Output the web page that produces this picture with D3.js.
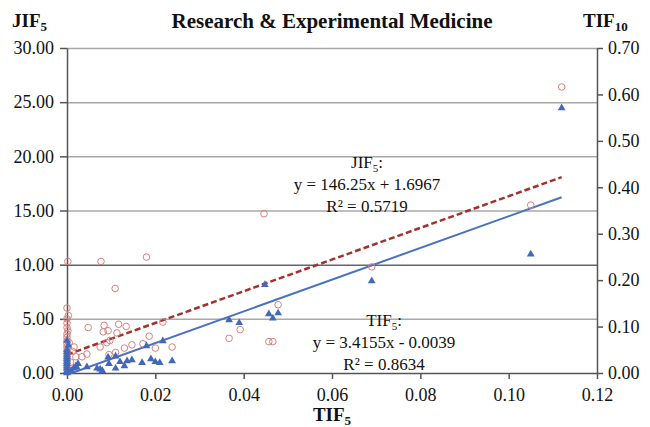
<!DOCTYPE html>
<html>
<head>
<meta charset="utf-8">
<script src="https://cdn.jsdelivr.net/npm/d3@7"></script>
<style>
  body { margin: 0; background: #fff; }
  text { font-family: "Liberation Serif", "DejaVu Serif", serif; }
</style>
</head>
<body>
<div id="wrapper"></div>
<script>
// JIF5 (left axis) against TIF5
const jif5Points = [
  [0, 0.3], [0, 0.6], [0, 0.9], [0, 1.2], [0, 1.5], [0, 1.8], [0, 2.1], [0, 2.4],
  [0, 2.7], [0, 3.0], [0, 3.3], [0, 3.6], [0.0002, 3.9], [0, 4.2], [0, 4.6], [0, 5.0],
  [0.0003, 5.3], [0, 6.0], [0.0002, 10.3], [0.0008, 1.0], [0.0012, 2.0], [0.0005, 2.8],
  [0.0016, 2.4], [0.002, 1.5], [0.0034, 1.5], [0.0045, 1.75], [0.0048, 4.2], [0.0075, 2.4],
  [0.0077, 10.3], [0.0084, 4.4], [0.0082, 3.8], [0.009, 2.8], [0.0093, 3.9], [0.0095, 1.7],
  [0.0097, 3.0], [0.0109, 7.8], [0.011, 1.9], [0.0113, 3.7], [0.0117, 4.5], [0.013, 2.3],
  [0.0134, 4.3], [0.0147, 2.6], [0.0172, 2.7], [0.018, 10.7], [0.0186, 3.4], [0.020, 2.3],
  [0.0217, 4.7], [0.0238, 2.4], [0.0367, 3.2], [0.0392, 4.0], [0.0446, 14.7], [0.0457, 2.9],
  [0.0466, 2.9], [0.0478, 6.3], [0.069, 9.8], [0.105, 15.5], [0.112, 26.4],
]

// TIF10 (right axis) against TIF5
const tif10Points = [
  [0, 0.0], [0, 0.005], [0, 0.01], [0, 0.015], [0, 0.02], [0, 0.025], [0, 0.03],
  [0, 0.035], [0, 0.04], [0, 0.045], [0, 0.05], [0.0003, 0.06], [0, 0.07],
  [0.001, 0.005], [0.0015, 0.01], [0.002, 0.015], [0.0025, 0.02], [0.0022, 0.012],
  [0.0045, 0.013], [0.0068, 0.01], [0.0075, 0.008], [0.008, 0.005], [0.0093, 0.034],
  [0.0095, 0.02], [0.011, 0.036], [0.011, 0.01], [0.012, 0.024], [0.013, 0.015],
  [0.0136, 0.026], [0.0147, 0.028], [0.017, 0.022], [0.018, 0.058], [0.019, 0.030],
  [0.020, 0.024], [0.021, 0.022], [0.0217, 0.069], [0.0238, 0.026], [0.0367, 0.114],
  [0.039, 0.108], [0.0448, 0.19], [0.0457, 0.127], [0.0466, 0.118], [0.0478, 0.129],
  [0.069, 0.198], [0.105, 0.256], [0.112, 0.571],
]

// trend lines: [slope, intercept], drawn over x range [0, max TIF5]
const jif5Trend = [146.25, 1.6967]
const tif5Trend = [3.4155, -0.0039]
const trendXRange = [0, 0.112]

const xTicks = [0, 0.02, 0.04, 0.06, 0.08, 0.10, 0.12]
const leftTicks = [0, 5, 10, 15, 20, 25, 30]
const rightTicks = [0, 0.1, 0.2, 0.3, 0.4, 0.5, 0.6, 0.7]

const jif5Label = ["y = 146.25x + 1.6967", "R² = 0.5719"]
const tif5Label = ["y = 3.4155x - 0.0039", "R² = 0.8634"]

let dimensions = {
  width: 650,
  height: 427,
  margin: { top: 48, right: 53, bottom: 54, left: 67 },
}
dimensions.boundedWidth = dimensions.width - dimensions.margin.left - dimensions.margin.right
dimensions.boundedHeight = dimensions.height - dimensions.margin.top - dimensions.margin.bottom

const wrapper = d3.select("#wrapper")
  .append("svg")
    .attr("width", dimensions.width)
    .attr("height", dimensions.height)

const bounds = wrapper.append("g")
  .attr("transform", `translate(${dimensions.margin.left}, ${dimensions.margin.top})`)

// scales
const xScale = d3.scaleLinear()
  .domain([0, 0.12])
  .range([0, dimensions.boundedWidth])
const yLeft = d3.scaleLinear()
  .domain([0, 30])
  .range([dimensions.boundedHeight, 0])
const yRight = d3.scaleLinear()
  .domain([0, 0.7])
  .range([dimensions.boundedHeight, 0])

// gridlines
const grid = bounds.append("g")
  .call(d3.axisLeft(yLeft).tickValues(leftTicks.slice(1)).tickSize(-dimensions.boundedWidth).tickFormat(""))
grid.select(".domain").remove()
grid.selectAll(".tick line")
  .attr("stroke", d => d == 10 ? "#666" : "#a8a8a8")
  .attr("stroke-width", 1.5)

// axes
const fmt2 = d3.format(".2f")
const xAxis = bounds.append("g")
  .attr("transform", `translate(0, ${dimensions.boundedHeight})`)
  .call(d3.axisBottom(xScale).tickValues(xTicks).tickFormat(fmt2).tickSize(6).tickSizeOuter(0).tickPadding(9))
const leftAxis = bounds.append("g")
  .call(d3.axisLeft(yLeft).tickValues(leftTicks).tickFormat(fmt2).tickSize(7).tickSizeOuter(0).tickPadding(6))
const rightAxis = bounds.append("g")
  .attr("transform", `translate(${dimensions.boundedWidth}, 0)`)
  .call(d3.axisRight(yRight).tickValues(rightTicks).tickFormat(fmt2).tickSize(6).tickSizeOuter(0).tickPadding(5))

;[xAxis, leftAxis, rightAxis].forEach(axis => {
  axis.attr("font-family", "Liberation Serif, serif").attr("font-size", 18)
  axis.selectAll(".tick text").attr("fill", "#111")
  axis.select(".domain").attr("stroke", "#555").attr("stroke-width", 1.5)
  axis.selectAll(".tick line").attr("stroke", "#555").attr("stroke-width", 1.5)
})

// trend lines
const trendLine = (coef, yScale) => d3.line()
  .x(d => xScale(d))
  .y(d => yScale(coef[0] * d + coef[1]))

bounds.append("path")
  .datum(trendXRange)
  .attr("d", trendLine(tif5Trend, yRight))
  .attr("fill", "none")
  .attr("stroke", "#4a72c0")
  .attr("stroke-width", 2)

bounds.append("path")
  .datum(trendXRange)
  .attr("d", trendLine(jif5Trend, yLeft))
  .attr("fill", "none")
  .attr("stroke", "#a3312e")
  .attr("stroke-width", 2.5)
  .attr("stroke-dasharray", "6,3")

// points
bounds.selectAll(".jif")
  .data(jif5Points)
  .enter().append("circle")
    .attr("class", "jif")
    .attr("cx", d => xScale(d[0]))
    .attr("cy", d => yLeft(d[1]))
    .attr("r", 3.3)
    .attr("fill", "none")
    .attr("stroke", "#d4827f")
    .attr("stroke-width", 1)

const triangle = d3.symbol().type(d3.symbolTriangle).size(26)
bounds.selectAll(".tif")
  .data(tif10Points)
  .enter().append("path")
    .attr("class", "tif")
    .attr("transform", d => `translate(${xScale(d[0])}, ${yRight(d[1])})`)
    .attr("d", triangle)
    .attr("fill", "#4169b8")

// trend labels
const drawLabel = (name, lines, cx, y0) => {
  const g = bounds.append("g").attr("font-size", 17).attr("fill", "#111").attr("text-anchor", "middle")
  const t = g.append("text").attr("x", cx).attr("y", y0)
  t.append("tspan").text(name)
  t.append("tspan").attr("font-size", 11).attr("dy", 4).text("5")
  t.append("tspan").attr("dy", -4).text(":")
  lines.forEach((line, i) => {
    g.append("text").attr("x", cx).attr("y", y0 + 22 * (i + 1)).text(line)
  })
}
drawLabel("JIF", jif5Label, 367 - dimensions.margin.left, 168 - dimensions.margin.top)
drawLabel("TIF", tif5Label, 384 - dimensions.margin.left, 326 - dimensions.margin.top)

// titles
const titleWithSub = (x, y, main, sub, anchor) => {
  const t = wrapper.append("text")
    .attr("x", x).attr("y", y)
    .attr("font-weight", "bold")
    .attr("font-size", 19)
    .attr("text-anchor", anchor)
    .attr("fill", "#111")
  t.append("tspan").text(main)
  t.append("tspan").attr("font-size", 13).attr("dy", 4).text(sub)
}
titleWithSub(12, 27, "JIF", "5", "start")
titleWithSub(583, 27, "TIF", "10", "start")
titleWithSub(dimensions.margin.left + dimensions.boundedWidth / 2, 421, "TIF", "5", "middle")

wrapper.append("text")
  .attr("x", dimensions.margin.left + dimensions.boundedWidth / 2)
  .attr("y", 28)
  .attr("text-anchor", "middle")
  .attr("font-weight", "bold")
  .attr("font-size", 21)
  .attr("fill", "#111")
  .text("Research & Experimental Medicine")
</script>
</body>
</html>
